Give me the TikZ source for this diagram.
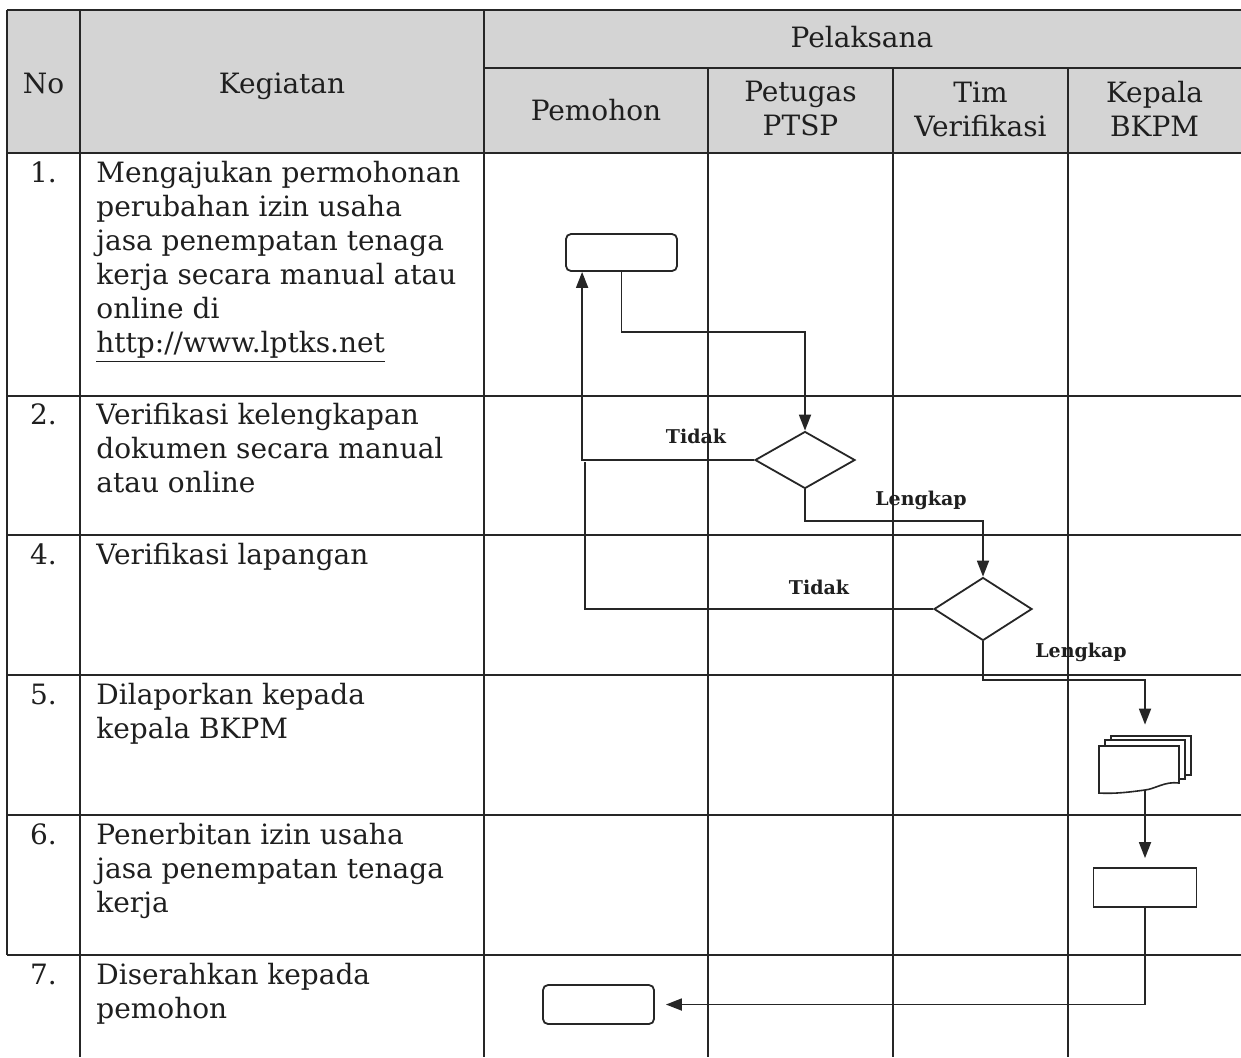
\documentclass[tikz,border=0pt]{standalone}
\usepackage{fontspec}
\setmainfont{DejaVu Serif}
\usetikzlibrary{arrows.meta,shapes.geometric}
\begin{document}
\begin{tikzpicture}[x=0.5pt,y=-0.5pt,
  tl/.style={line width=0.9pt, draw=black!85},
  conn/.style={line width=0.9pt, draw=black!85},
  arr/.style={conn,-{Triangle[length=8pt,width=6pt]}},
  txt/.style={font=\fontsize{14}{17}\selectfont, inner sep=0pt, text=black!88},
  lbl/.style={font=\fontsize{9.5}{11}\selectfont\bfseries, inner sep=0pt, text=black!88},
  rbox/.style={draw=black!85, rounded corners=2.5pt, line width=0.9pt, minimum width=55.5pt, inner sep=0pt},
  sbox/.style={draw=black!85, line width=0.9pt, minimum width=51.5pt, minimum height=19.5pt, inner sep=0pt},
  dec/.style={diamond, draw=black!85, line width=0.9pt, inner sep=0pt, aspect=1.7},
  docnode/.style={rectangle, draw=none, minimum width=46pt, minimum height=27pt, inner sep=0pt}
]
\useasboundingbox (0,0) rectangle (1241,1057);
\fill[white] (0,0) rectangle (1241,1057);
\fill[black!17] (7,10) rectangle (1241,153);
% table grid
\foreach \yy in {10,153,396,535,675,815,955} \draw[tl] (7,\yy) -- (1241,\yy);
\draw[tl] (484,68) -- (1241,68);
\draw[tl] (7,10) -- (7,955);
\draw[tl] (80,10) -- (80,1057);
\draw[tl] (484,10) -- (484,1057);
\foreach \xx in {708,893,1068} \draw[tl] (\xx,68) -- (\xx,1057);

% header
\node[txt, anchor=base] (hno) at (43.5,93) {No};
\node[txt, anchor=base] (hkeg) at (282,93) {Kegiatan};
\node[txt, anchor=base] (hpel) at (862,47) {Pelaksana};
\node[txt, anchor=base] (hpem) at (596,120) {Pemohon};
\node[txt, anchor=north, align=center] (hpet) at (800.5,81) {Petugas\\PTSP};
\node[txt, anchor=north, align=center] (htim) at (980.5,81) {Tim\\Verifikasi};
\node[txt, anchor=north, align=center] (hkep) at (1154.5,81) {Kepala\\BKPM};

% numbers
\node[txt, anchor=base] (n1) at (43.5,182) {1.};
\node[txt, anchor=base] (n2) at (43.5,424) {2.};
\node[txt, anchor=base] (n4) at (43.5,564) {4.};
\node[txt, anchor=base] (n5) at (43.5,704) {5.};
\node[txt, anchor=base] (n6) at (43.5,844) {6.};
\node[txt, anchor=base] (n7) at (43.5,984) {7.};

% activities
\node[txt, anchor=north west, align=left] (k1) at (96,161) {Mengajukan permohonan\\perubahan izin usaha\\jasa penempatan tenaga\\kerja secara manual atau\\online di\\\underline{http://www.lptks.net}};
\node[txt, anchor=north west, align=left] (k2) at (96,403) {Verifikasi kelengkapan\\dokumen secara manual\\atau online};
\node[txt, anchor=north west, align=left] (k4) at (96,543) {Verifikasi lapangan};
\node[txt, anchor=north west, align=left] (k5) at (96,683) {Dilaporkan kepada\\kepala BKPM};
\node[txt, anchor=north west, align=left] (k6) at (96,823) {Penerbitan izin usaha\\jasa penempatan tenaga\\kerja};
\node[txt, anchor=north west, align=left] (k7) at (96,963) {Diserahkan kepada\\pemohon};

% flow shapes
\node[rbox, minimum height=18.5pt] (box1) at (621.5,252.5) {};
\node[dec, minimum width=50pt, minimum height=28.5pt] (d1) at (805,460) {};
\node[dec, minimum width=49pt, minimum height=31.5pt] (d2) at (983,609) {};
\node[docnode] (doc) at (1145,763) {};
\node[sbox] (r6) at (1145,887.5) {};
\node[rbox, minimum height=19.5pt] (box7) at (598.5,1004.5) {};

% multi-document symbol
\begin{scope}[shift={(doc.center)}, line width=0.8pt, draw=black!85]
  \draw (-34,-23) -- (-34,-27) -- (46,-27) -- (46,12) -- (40,12);
  \draw (-40,-17) -- (-40,-23) -- (40,-23) -- (40,16) -- (34,16);
  \draw[fill=white] (-46,30) -- (-46,-17) -- (34,-17) -- (34,20)
     .. controls (20,18) and (10,26) .. (0,27)
     .. controls (-15,29) and (-30,31) .. (-46,30) -- cycle;
\end{scope}

% coordinates for corners
\coordinate (t1) at ([xshift=8.5pt]box1.south west);
\coordinate (c0) at (805,332);
\coordinate (c1) at (983,521);
\coordinate (c2) at (1145,680);
\coordinate (j1) at (585,462);

% connectors
\draw[arr] (box1.south) |- (c0) -- (d1.north);
\draw[arr] (d1.west) -| (t1);
\draw[arr] (d1.south) |- (c1) -- (d2.north);
\draw[conn] (d2.west) -| (j1);
\draw[arr, shorten >=5.5pt] (d2.south) |- (c2) -- (doc.north);
\draw[arr, shorten >=4.5pt] (doc.south) -- (r6.north);
\draw[arr, shorten >=5.5pt] (r6.south) |- (box7.east);

% labels
\node[lbl, anchor=base] (lt1) at (696,443) {Tidak};
\node[lbl, anchor=base] (lt2) at (819,594) {Tidak};
\node[lbl, anchor=base] (ll1) at (921,505) {Lengkap};
\node[lbl, anchor=base] (ll2) at (1081,657) {Lengkap};
\end{tikzpicture}
\end{document}
